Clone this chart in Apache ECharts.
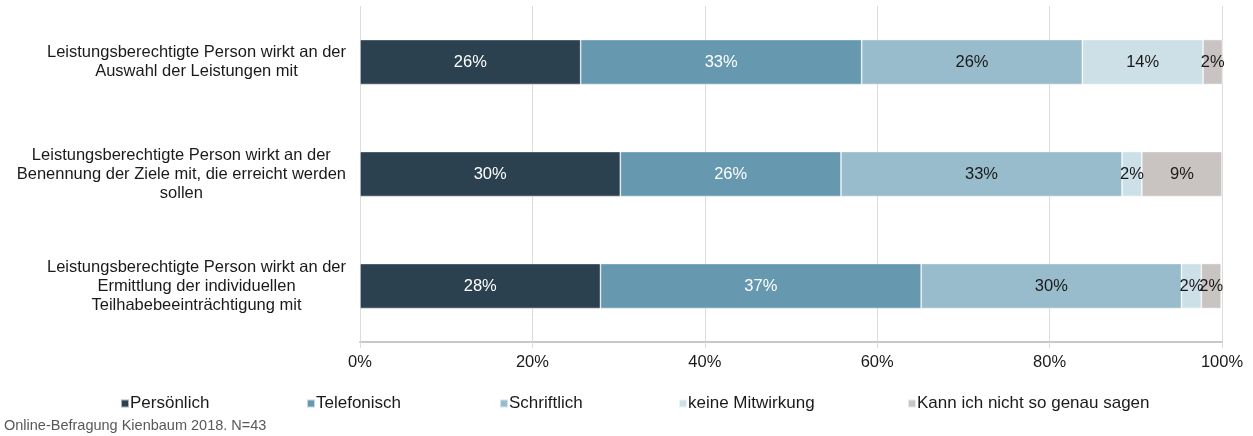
<!DOCTYPE html>
<html>
<head>
<meta charset="utf-8">
<script src="https://cdn.jsdelivr.net/npm/echarts@6/dist/echarts.min.js"></script>
<style>
  html, body { margin: 0; padding: 0; background: #fff; }
  #chart { width: 1253px; height: 436px; }
</style>
</head>
<body>
<div id="chart"></div>
<script>
// Kategorien (von oben nach unten)
const categories = [
  'Leistungsberechtigte Person wirkt an der\nAuswahl der Leistungen mit',
  'Leistungsberechtigte Person wirkt an der\nBenennung der Ziele mit, die erreicht werden\nsollen',
  'Leistungsberechtigte Person wirkt an der\nErmittlung der individuellen\nTeilhabebeeinträchtigung mit'
]
const seriesNames = ['Persönlich', 'Telefonisch', 'Schriftlich', 'keine Mitwirkung', 'Kann ich nicht so genau sagen']
const persoenlich = [25.6, 30.2, 27.9]
const telefonisch = [32.6, 25.6, 37.2]
const schriftlich = [25.6, 32.6, 30.2]
const keineMitwirkung = [14.0, 2.3, 2.3]
const kannNicht = [2.3, 9.3, 2.3]
const xTicks = [0, 20, 40, 60, 80, 100]

const colors = ['#2b4150', '#6699b0', '#98bccb', '#cde0e7', '#c9c4c2']
const labelColors = ['#ffffff', '#ffffff', '#1a1a1a', '#1a1a1a', '#1a1a1a']
const values = [persoenlich, telefonisch, schriftlich, keineMitwirkung, kannNicht]
const legendLeft = [115, 301, 494, 673, 902]

const font = 'Liberation Sans, Arial, sans-serif'
const fs = 16.5

const chart = echarts.init(document.getElementById('chart'))

const options = {
  animation: false,
  grid: {
    left: 360,
    right: 31,
    top: 6,
    height: 336,
    containLabel: false,
  },
  xAxis: {
    type: 'value',
    min: xTicks[0],
    max: xTicks[xTicks.length - 1],
    interval: 20,
    axisLabel: {
      formatter: '{value}%',
      color: '#1a1a1a',
      fontFamily: font,
      fontSize: fs,
      margin: 12,
    },
    axisLine: { show: true, lineStyle: { color: '#c8c8c8', width: 2 } },
    axisTick: { show: true, length: 6, lineStyle: { color: '#dcdcdc', width: 1 } },
    splitLine: { show: true, lineStyle: { color: '#dcdcdc', width: 1 } },
  },
  yAxis: {
    type: 'category',
    inverse: true,
    data: categories,
    axisLine: { show: false },
    axisTick: { show: false },
    axisLabel: {
      align: 'right',
      margin: 14,
      // Zeilen innerhalb des Blocks zentriert
      formatter: (v) => v.split('\n').map((l) => '{c|' + l + '}').join('\n'),
      rich: {
        c: {
          align: 'center',
          color: '#1a1a1a',
          fontFamily: font,
          fontSize: fs,
          lineHeight: 19,
        },
      },
    },
  },
  // eine Legende pro Eintrag, damit die Abstände passen
  legend: seriesNames.map((name, i) => ({
    data: [name],
    left: legendLeft[i],
    top: 390,
    itemWidth: 8,
    itemHeight: 8,
    itemGap: 2,
    icon: 'rect',
    textStyle: { color: '#1a1a1a', fontFamily: font, fontSize: 17, padding: [0, 0, 0, -4] },
  })),
  graphic: [{
    type: 'text',
    left: 4,
    top: 418,
    style: {
      text: 'Online-Befragung Kienbaum 2018. N=43',
      fill: '#595959',
      font: '14.5px ' + font,
    },
  }],
  series: seriesNames.map((name, i) => ({
    name: name,
    type: 'bar',
    stack: 'total',
    barWidth: 45,
    data: values[i],
    itemStyle: { color: colors[i], borderColor: 'rgba(255,255,255,0.6)', borderWidth: 0.75 },
    label: {
      show: true,
      position: 'inside',
      color: labelColors[i],
      fontFamily: font,
      fontSize: fs,
      formatter: (p) => Math.round(p.value) + '%',
    },
  })),
}

chart.setOption(options)
window.addEventListener('resize', function () {
  chart && chart.resize()
})
</script>
</body>
</html>
